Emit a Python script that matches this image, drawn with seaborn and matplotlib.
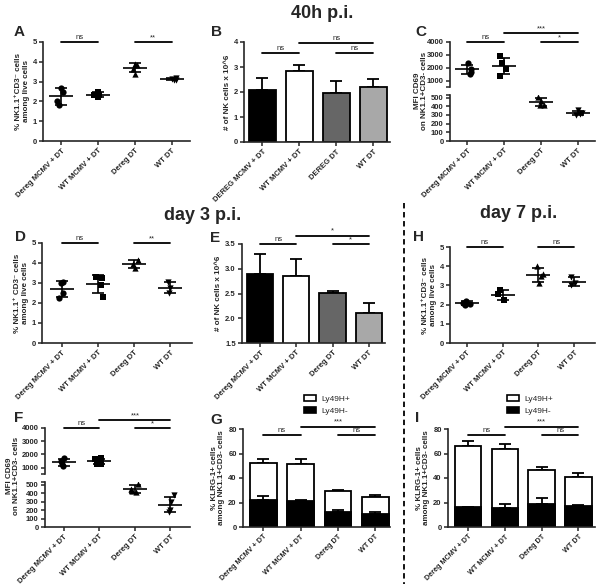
import numpy as np
import pandas as pd
import seaborn as sns
import matplotlib.pyplot as plt
from matplotlib.patches import Patch
from matplotlib.lines import Line2D

# groups
groups = ['Dereg MCMV + DT', 'WT MCMV + DT', 'Dereg DT', 'WT DT']
groups_b = ['DEREG MCMV + DT', 'WT MCMV + DT', 'DEREG DT', 'WT DT']
markers = ['o', 's', '^', 'v']
bar_colors = ['black', 'white', '#666666', '#a8a8a8']

# A - 40h % NK1.1+CD3- among live cells
a_vals = [[2.7, 2.5, 2.0, 1.8], [2.5, 2.3, 2.3, 2.2], [3.9, 3.85, 3.65, 3.4], [3.18, 3.12, 3.1, 3.08]]
# B - 40h # NK cells x 10^6
b_mean = [2.1, 2.85, 1.97, 2.2]
b_err = [0.45, 0.25, 0.48, 0.32]
# C - 40h MFI CD69
c_vals = [[2350, 1900, 1700, 1550], [2900, 2400, 1900, 1400], [510, 460, 420, 410], [360, 320, 310, 300]]
# D - day 3 % NK1.1+CD3-
d_vals = [[3.05, 3.0, 2.5, 2.25], [3.3, 3.25, 2.9, 2.3], [4.15, 3.95, 3.75], [3.05, 2.75, 2.5]]
# E - day 3 # NK cells
e_mean = [2.9, 2.85, 2.52, 2.1]
e_err = [0.4, 0.35, 0.03, 0.2]
# F - day 3 MFI CD69
f_vals = [[1750, 1500, 1300, 1100], [1750, 1650, 1400, 1300, 1300], [510, 450, 420, 410], [380, 300, 200, 180]]
# G - day 3 KLRG-1+
g_neg = [22, 21, 12, 10.5]
g_neg_err = [3, 1, 2, 1.5]
g_tot = [52, 51.5, 29, 24.5]
g_tot_err = [3.5, 4, 1.5, 1.5]
# H - day 7 % NK1.1+CD3-
h_vals = [[2.2, 2.1, 2.05, 2.0], [2.75, 2.55, 2.25], [4.0, 3.6, 3.5, 3.1], [3.45, 3.1, 3.0]]
# I - day 7 KLRG-1+
i_neg = [16, 15.5, 19, 17]
i_neg_err = [0.5, 3.5, 5, 1]
i_tot = [66.5, 63.5, 46.5, 40.5]
i_tot_err = [3.5, 4, 2.5, 3.5]

sns.set_style('ticks')
plt.rcParams['font.family'] = ['Liberation Sans', 'DejaVu Sans']

W, H = 600, 584
fig = plt.figure(figsize=(6, 5.84), dpi=100)


def add_ax(l, t, r, b):
    return fig.add_axes([l / W, 1 - b / H, (r - l) / W, (b - t) / H])


def style(ax, xlim, labels=None, bottom=True, xsize=5.5):
    sns.despine(ax=ax, bottom=not bottom)
    for s in ax.spines.values():
        s.set_linewidth(1.2)
    ax.tick_params(width=1.1, length=3, labelsize=5.5, pad=1.5)
    ax.set_xlim(*xlim)
    ax.set_xlabel('')
    ax.set_ylabel('')
    if bottom:
        ax.set_xticks(range(4))
        ax.set_xticklabels(labels, rotation=45, ha='right', rotation_mode='anchor',
                           fontsize=xsize, fontweight='bold')
    else:
        ax.set_xticks([])
    for lab in ax.get_yticklabels():
        lab.set_fontweight('bold')


def scatter(ax, vals, seed, keep=(0, 1, 2, 3)):
    df = pd.DataFrame({'group': np.repeat(groups, [len(v) for v in vals]),
                       'value': np.concatenate(vals)})
    for i in keep:
        np.random.seed(seed + i)
        sns.stripplot(data=df[df.group == groups[i]], x='group', y='value', order=groups,
                      marker=markers[i], color='black', size=4.5, jitter=0.13, ax=ax)
    means = [np.mean(vals[i]) for i in keep]
    sds = [np.std(vals[i], ddof=1) for i in keep]
    ax.errorbar(list(keep), means, yerr=sds, fmt='_', color='black', markersize=17, mew=1.2,
                elinewidth=1.2, capsize=4, capthick=1.2, zorder=3)


def bars(ax, means, errs, colors):
    sns.barplot(x=groups, y=means, hue=groups, palette=colors, edgecolor='black', linewidth=1.3,
                width=0.72, legend=False, errorbar=None, ax=ax)
    ax.errorbar(range(4), means, yerr=[np.zeros(4), errs], fmt='none', ecolor='black',
                elinewidth=1.3, capsize=4.5, capthick=1.3, zorder=0)


def stacked(ax, neg, neg_err, tot, tot_err):
    sns.barplot(x=groups, y=tot, color='white', edgecolor='black', linewidth=1.3, width=0.72,
                errorbar=None, ax=ax)
    ax.errorbar(range(4), tot, yerr=[np.zeros(4), tot_err], fmt='none', ecolor='black',
                elinewidth=1.3, capsize=4.5, capthick=1.3, zorder=0)
    sns.barplot(x=groups, y=neg, color='black', edgecolor='black', linewidth=1.3, width=0.72,
                errorbar=None, ax=ax)
    ax.errorbar(range(4), neg, yerr=[np.zeros(4), neg_err], fmt='none', ecolor='black',
                elinewidth=1.3, capsize=4.5, capthick=1.3, zorder=5)


def sig(ax, x1, x2, y, txt):
    ax.plot([x1, x2], [y, y], color='black', lw=1.3, clip_on=False)
    ax.annotate(txt, ((x1 + x2) / 2, y), xytext=(0, 0.5), textcoords='offset points',
                ha='center', va='bottom', fontsize=5.5, annotation_clip=False)


def ylab(ax, txt):
    ax.set_ylabel(txt, fontsize=5.8, fontweight='bold', labelpad=2, linespacing=1.05)


lab_nk = '% NK1.1\u207aCD3\u207b cells\namong live cells'
lab_nk3 = '% NK1.1\u207a CD3\u207b cells\namong live cells'
lab_num = '# of NK cells x 10^6'
lab_mfi = 'MFI CD69\non NK1.1+CD3- cells'
lab_klrg = '% KLRG-1+ cells\namong NK1.1+CD3- cells'

# ---- A
ax = add_ax(43, 42, 190, 141)
scatter(ax, a_vals, 1)
ax.set_ylim(0, 5)
ax.set_yticks(range(6))
style(ax, (-0.5, 3.5), groups)
ylab(ax, lab_nk)
sig(ax, 0, 1, 5, 'ns')
sig(ax, 2, 3, 5, '**')

# ---- B
ax = add_ax(244, 42, 390, 142)
bars(ax, b_mean, b_err, bar_colors)
ax.set_ylim(0, 4)
ax.set_yticks(range(5))
style(ax, (-0.5, 3.45), groups_b)
ylab(ax, lab_num)
sig(ax, 0, 1, 3.56, 'ns')
sig(ax, 1, 3, 3.96, 'ns')
sig(ax, 2, 3, 3.56, 'ns')


# ---- broken axes for MFI
def broken(top_box, bot_box, vals, seed, xlim, lab_xy):
    l, t1, r, b1 = top_box
    _, t2, _, b2 = bot_box
    axt = add_ax(l, t1, r, b1)
    axb = add_ax(l, t2, r, b2)
    scatter(axt, vals, seed, keep=(0, 1))
    scatter(axb, vals, seed, keep=(2, 3))
    axt.set_ylim(520, 4000)
    axt.set_yticks([1000, 2000, 3000, 4000])
    axt.set_yticks([520], minor=True)
    axb.set_ylim(0, 530)
    axb.set_yticks(range(0, 600, 100))
    axb.set_yticks([530], minor=True)
    style(axt, xlim, bottom=False)
    style(axb, xlim, groups)
    for a in (axt, axb):
        a.tick_params(which='minor', length=3, width=1.1)
    fig.text(lab_xy[0] / W, 1 - lab_xy[1] / H, lab_mfi, rotation=90, ha='center', va='center',
             fontsize=5.8, fontweight='bold', linespacing=1.05)
    return axt


# ---- C
axt = broken((450, 42, 595, 87), (450, 95, 595, 141), c_vals, 20, (-0.47, 3.47), (421, 91))
sig(axt, 0, 1, 4000, 'ns')
sig(axt, 1, 3, 4700, '***')
sig(axt, 2, 3, 4000, '*')

# ---- D
ax = add_ax(42, 243, 192, 343)
scatter(ax, d_vals, 30)
ax.set_ylim(0, 5)
ax.set_yticks(range(6))
style(ax, (-0.55, 3.6), groups)
ylab(ax, lab_nk3)
sig(ax, 0, 1, 5, 'ns')
sig(ax, 2, 3, 5, '**')

# ---- E
ax = add_ax(242, 244, 385, 343)
bars(ax, e_mean, e_err, bar_colors)
ax.set_ylim(1.5, 3.5)
ax.set_yticks([1.5, 2.0, 2.5, 3.0, 3.5])
ax.set_yticklabels(['1.5', '2.0', '2.5', '3.0', '3.5'])
style(ax, (-0.5, 3.45), groups)
ylab(ax, lab_num)
sig(ax, 0, 1, 3.5, 'ns')
sig(ax, 1, 3, 3.67, '*')
sig(ax, 2, 3, 3.5, '*')

# ---- H
ax = add_ax(450, 247, 595, 343)
scatter(ax, h_vals, 40)
ax.set_ylim(0, 5)
ax.set_yticks(range(6))
style(ax, (-0.47, 3.58), groups)
ylab(ax, lab_nk)
sig(ax, 0, 1, 5, 'ns')
sig(ax, 2, 3, 5, 'ns')

# ---- F
axt = broken((45, 428, 190, 474), (45, 482, 190, 527), f_vals, 50, (-0.53, 3.55), (13, 476))
sig(axt, 0, 1, 4000, 'ns')
sig(axt, 1, 3, 4600, '***')
sig(axt, 2, 3, 4000, '*')

# ---- G
ax = add_ax(243, 429, 390, 527)
stacked(ax, g_neg, g_neg_err, g_tot, g_tot_err)
ax.set_ylim(0, 80)
ax.set_yticks(range(0, 100, 20))
style(ax, (-0.55, 3.4), groups, xsize=5.2)
ylab(ax, lab_klrg)
sig(ax, 0, 1, 75, 'ns')
sig(ax, 1, 3, 82, '***')
sig(ax, 2, 3, 75, 'ns')

# ---- I
ax = add_ax(448, 429, 595, 527)
stacked(ax, i_neg, i_neg_err, i_tot, i_tot_err)
ax.set_ylim(0, 80)
ax.set_yticks(range(0, 100, 20))
style(ax, (-0.55, 3.45), groups, xsize=5.2)
ylab(ax, lab_klrg)
sig(ax, 0, 1, 75, 'ns')
sig(ax, 1, 3, 82, '***')
sig(ax, 2, 3, 75, 'ns')

# legends
handles = [Patch(facecolor='white', edgecolor='black', linewidth=1.2, label='Ly49H+'),
           Patch(facecolor='black', edgecolor='black', linewidth=1.2, label='Ly49H-')]
for x0 in (304, 507):
    fig.legend(handles=handles, loc='upper left', bbox_to_anchor=(x0 / W, 1 - 395 / H),
               frameon=False, fontsize=6, handlelength=1.4, handleheight=0.8,
               labelspacing=0.45, handletextpad=0.7, borderaxespad=0, borderpad=0)

# titles and panel letters
for txt, x, y in [('40h p.i.', 322, 13), ('day 3 p.i.', 203, 215), ('day 7 p.i.', 519, 214)]:
    fig.text(x / W, 1 - y / H, txt, ha='center', va='center', fontsize=13, fontweight='bold')
for txt, x, y in [('A', 19, 32), ('B', 216, 32), ('C', 421, 32), ('D', 20, 237), ('E', 215, 238),
                  ('H', 419, 237), ('F', 19, 418), ('G', 216, 420), ('I', 417, 418)]:
    fig.text(x / W, 1 - y / H, txt, ha='center', va='center', fontsize=11, fontweight='bold')

fig.add_artist(Line2D([404 / W, 404 / W], [1 - 203 / H, 0], transform=fig.transFigure,
                      ls=(0, (3, 2)), color='black', lw=1.3))

fig.savefig('out.png', dpi=100)
